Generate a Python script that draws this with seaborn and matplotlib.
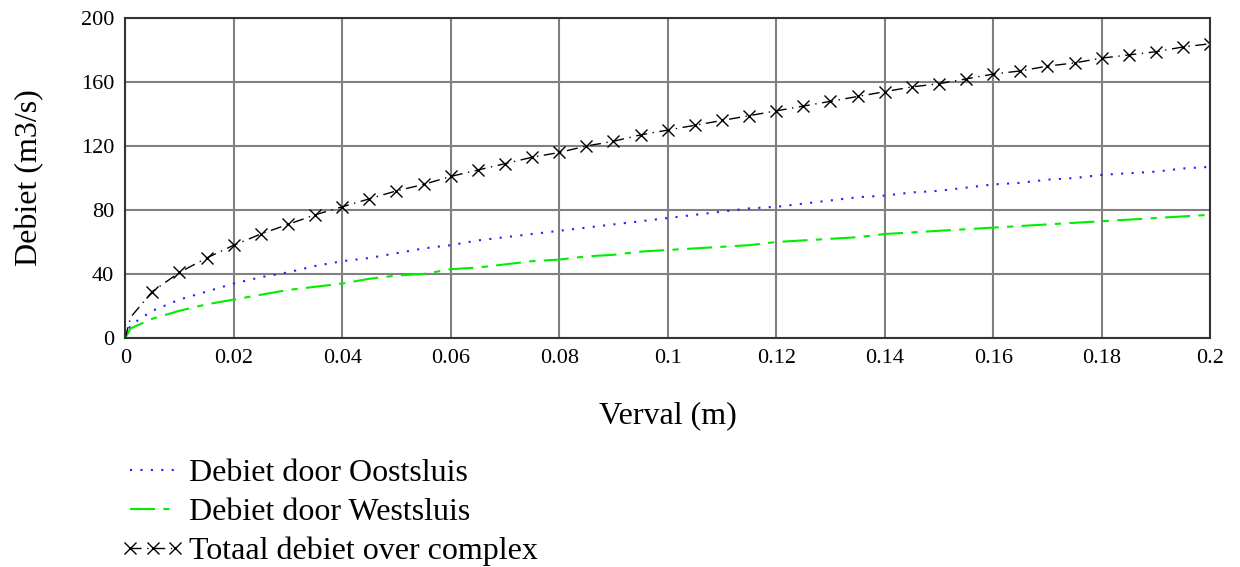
import numpy as np
import pandas as pd
import seaborn as sns
import matplotlib.pyplot as plt

# Values (Verval in m, Debiet in m3/s)
verval = [0, 0.001, 0.005, 0.01, 0.015, 0.02, 0.025, 0.03, 0.035, 0.04, 0.045,
          0.05, 0.055, 0.06, 0.065, 0.07, 0.075, 0.08, 0.085, 0.09, 0.095,
          0.1, 0.105, 0.11, 0.115, 0.12, 0.125, 0.13, 0.135, 0.14, 0.145,
          0.15, 0.155, 0.16, 0.165, 0.17, 0.175, 0.18, 0.185, 0.19, 0.195, 0.2]
oostsluis = [0, 8, 17, 24, 29, 34, 38, 41, 45, 48, 50,
             53, 56, 58, 61, 63, 65, 67, 69, 71, 73,
             75, 77, 79, 81, 82, 84, 86, 88, 89, 91,
             92, 94, 96, 97, 99, 100, 102, 103, 104, 106, 107]
westsluis = [0, 6, 12, 17, 21, 24, 27, 30, 32, 34, 37,
             39, 40, 43, 44, 46, 48, 49, 51, 52, 54,
             55, 56, 57, 58, 60, 61, 62, 63, 65, 66,
             67, 68, 69, 70, 71, 72, 73, 74, 75, 76, 77]
totaal = [0, 13, 29, 41, 50, 58, 65, 71, 77, 82, 87,
          92, 96, 101, 105, 109, 113, 116, 120, 123, 127,
          130, 133, 136, 139, 142, 145, 148, 151, 154, 157,
          159, 162, 165, 167, 170, 172, 175, 177, 179, 182, 184]

df = pd.DataFrame({'Verval': verval, 'Oost': oostsluis,
                   'West': westsluis, 'Totaal': totaal})

sns.set_style('white')
plt.rcParams['font.family'] = ['Liberation Serif', 'DejaVu Serif']
plt.rcParams['text.color'] = 'black'
plt.rcParams['axes.labelcolor'] = 'black'
plt.rcParams['xtick.color'] = 'black'
plt.rcParams['ytick.color'] = 'black'

fig = plt.figure(figsize=(12.4, 5.67), dpi=100)
ax = fig.add_axes([0.101, 0.404, 0.875, 0.564])

sns.lineplot(data=df, x='Verval', y='Oost', ax=ax, color='#2020ff', lw=1.5,
             linestyle=(0, (1, 4)), label='Debiet door Oostsluis')
sns.lineplot(data=df, x='Verval', y='West', ax=ax, color='#00ee00', lw=1.5,
             linestyle=(0, (12, 4, 3, 4)), label='Debiet door Westsluis')
sns.lineplot(data=df, x='Verval', y='Totaal', ax=ax, color='black', lw=1,
             linestyle=(0, (8, 4, 1, 4)), marker='x', markersize=9,
             markeredgewidth=1, markeredgecolor='black',
             markevery=list(range(2, len(verval))),
             label='Totaal debiet over complex')

ax.set_xlim(0, 0.2)
ax.set_ylim(0, 200)
ax.set_xticks(np.arange(0, 0.201, 0.02))
ax.set_xticklabels(['0', '0.02', '0.04', '0.06', '0.08', '0.1',
                    '0.12', '0.14', '0.16', '0.18', '0.2'])
ax.set_yticks(np.arange(0, 201, 40))
ax.grid(True, color='#808080', lw=1.5)
ax.tick_params(labelsize=16, length=0, pad=8)
for s in ax.spines.values():
    s.set_color('#333333')
    s.set_linewidth(1.5)

ax.set_xlabel('Verval (m)', fontsize=23, labelpad=24)
ax.set_ylabel('Debiet (m3/s)', fontsize=23, labelpad=26)

handles, labels = ax.get_legend_handles_labels()
ax.get_legend().remove()
fig.legend(handles, labels, loc='upper left', bbox_to_anchor=(0.087, 0.214),
           frameon=False, fontsize=23, handlelength=2.0, handletextpad=0.15,
           labelspacing=0.3, numpoints=3, borderaxespad=0)

fig.savefig('out.png', dpi=100)
